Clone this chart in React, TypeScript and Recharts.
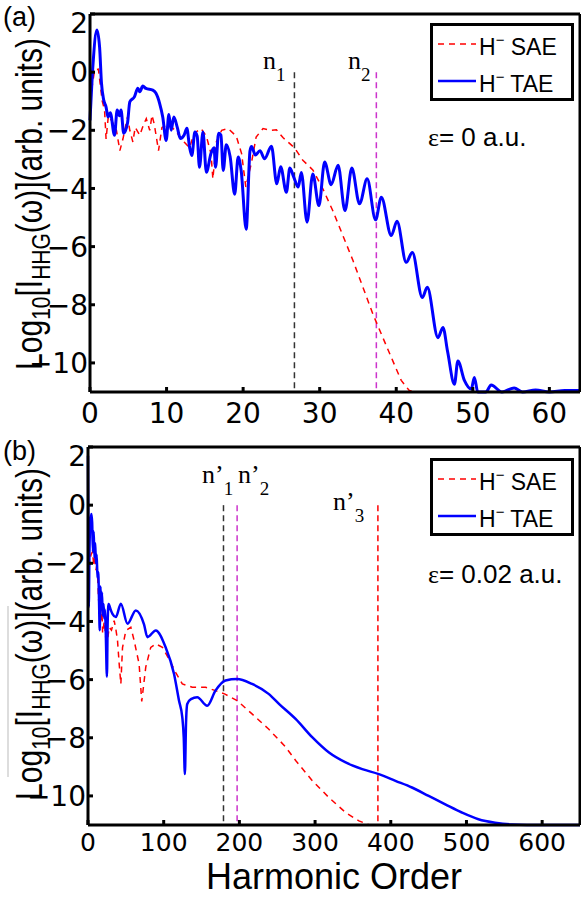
import React from "react";
import { LineChart, Line, XAxis, YAxis, ReferenceLine } from "recharts";

// (a) epsilon = 0
const harmA_tae = [0, 0.4, 0.9, 1.25, 1.5, 1.8, 2.1, 2.35, 2.65, 3.2, 3.55, 3.85, 4.05, 4.4, 4.9, 5.2, 5.8, 6.25, 6.5, 6.9, 7.3, 8.2, 8.6, 9.1, 9.5, 9.95, 10.3, 10.6, 10.95, 11.4, 11.8, 12.3, 12.65, 13, 13.3, 13.7, 14, 14.3, 14.75, 15.2, 15.8, 16.2, 16.4, 16.8, 17.1, 17.4, 17.8, 18.3, 18.9, 19.35, 19.75, 20.4, 20.9, 21.1, 21.6, 22.2, 22.8, 23.7, 24.4, 24.9, 25.65, 26.1, 26.6, 27.2, 27.6, 28.35, 29.1, 29.9, 30.65, 31.5, 32.4, 33.3, 34.2, 35.2, 36.2, 37.3, 38.05, 39.35, 40.1, 41.3, 42.1, 43.4, 44.05, 45.45, 46.1, 46.7, 47.6, 48.05, 48.9, 49.8, 50.2, 50.65, 51.7, 52.4, 53.8, 55.4, 56.5, 58.2, 60, 62, 64];
const logA_tae = [-1.66, 0.3, 1.45, 0.87, -0.38, -0.97, -1.2, -1.54, -1.4, -2.17, -1.3, -1.5, -1.3, -2.1, -1.75, -1.02, -0.85, -0.55, -0.67, -0.48, -0.56, -0.62, -0.72, -1.08, -1.54, -2.35, -1.46, -2.0, -1.54, -1.9, -2.28, -2.16, -1.93, -2.57, -2.87, -2.06, -2.2, -3.27, -2.06, -3.44, -2.8, -2.6, -3.27, -2.1, -2.16, -3.38, -2.5, -2.9, -4.2, -2.92, -3.4, -5.4, -2.7, -2.56, -2.85, -2.7, -2.98, -2.55, -3.84, -3.25, -4.13, -3.3, -3.6, -3.95, -3.45, -5.16, -3.5, -4.59, -3.09, -3.87, -3.2, -4.76, -3.3, -4.53, -3.67, -5.08, -4.3, -5.62, -5.13, -6.54, -6.2, -7.75, -7.4, -9.13, -8.78, -9.6, -10.73, -9.93, -10.6, -10.9, -10.5, -11, -11, -10.76, -11, -10.86, -11, -10.93, -11, -10.95, -10.95];

const harmA_sae = [0, 0.6, 1.1, 1.6, 1.9, 2.1, 2.4, 2.9, 3.45, 3.9, 4.3, 4.9, 5.2, 5.6, 5.9, 6.5, 7.0, 7.35, 7.8, 8.1, 8.4, 8.95, 9.4, 9.8, 10.3, 11.1, 12.3, 13, 13.6, 14.5, 15.2, 15.8, 16.05, 16.5, 17.2, 18.05, 19.1, 19.8, 20.35, 21.1, 21.7, 22.6, 23.5, 24.35, 25.2, 26.1, 26.7, 27.8, 29.1, 30.4, 31.7, 33, 34.35, 35.65, 36.95, 38.25, 39.55, 40.65, 41.7, 42.5, 64];
const logA_sae = [-0.97, 0.07, 0.1, -1, -1.3, -2.3, -1.5, -1.7, -2.0, -2.7, -2.3, -1.54, -2.0, -2.4, -1.9, -2.17, -1.8, -1.6, -2.0, -1.48, -1.8, -2.7, -1.9, -1.85, -1.8, -2.0, -2.4, -2.6, -2.1, -1.94, -2.2, -2.8, -3.67, -2.4, -2.0, -1.94, -2.2, -2.8, -3.95, -3.1, -2.23, -1.94, -2.0, -1.98, -2.25, -2.46, -2.6, -3.03, -3.36, -4.0, -4.76, -5.6, -6.48, -7.4, -8.32, -9.13, -9.93, -10.6, -10.95, -11, -11];

// (b) epsilon = 0.02
const harmB_tae = [0, 0.5, 1, 2, 3, 4.5, 5.5, 6.5, 7.5, 8.5, 9.5, 10.5, 11.5, 12.5, 13.5, 14.5, 15.5, 16.5, 17.5, 18.5, 19.5, 20.5, 21.5, 22.5, 23.5, 25, 26, 27.2, 30, 32.5, 36.8, 43.4, 52.2, 63.2, 74, 78.5, 89.5, 102.6, 113.6, 120.2, 124.6, 126.5, 128, 129.5, 131.1, 136, 144.3, 157.5, 168.4, 181.6, 197, 216.7, 238.6, 252.6, 274.6, 296.5, 318.4, 340.4, 362.3, 384.2, 406.2, 428, 450, 472, 493.8, 515.8, 537.8, 560, 600, 650];
const logB_tae = [1.7, -1, -3.5, -1.5, -0.6, -0.3, -0.6, -1.6, -0.9, -1.8, -1.3, -2.0, -1.7, -2.5, -2.3, -3.2, -4.3, -2.8, -3.5, -3.0, -3.8, -3.4, -3.9, -3.6, -4.4, -5.9, -4.0, -3.4, -3.6, -3.75, -3.85, -3.39, -4.08, -3.62, -4.1, -4.54, -4.31, -4.89, -5.8, -6.72, -7.3, -8.0, -9.25, -7.5, -6.84, -6.67, -6.61, -6.9, -6.38, -6.03, -5.98, -6.15, -6.49, -6.84, -7.36, -7.99, -8.51, -8.85, -9.08, -9.25, -9.48, -9.71, -10.0, -10.29, -10.57, -10.8, -10.92, -10.98, -11, -11];

const harmB_sae = [0, 1.7, 4, 6.1, 7.5, 9.2, 10.5, 12, 14, 15.5, 17.1, 18.3, 19.3, 21.5, 24.6, 28, 31, 34.6, 37, 39, 41.2, 43.4, 45.6, 50, 56.6, 61, 67.5, 71, 76.3, 82.9, 89.5, 98.3, 107, 115.8, 124.6, 137.7, 155.3, 168.4, 181, 197, 216.7, 238.6, 260.5, 274.6, 296.5, 318.4, 340.4, 357.9, 372, 650];
const logB_sae = [-2.1, -2.1, -1.7, -1.6, -2.1, -1.55, -2.24, -2.0, -3.28, -2.9, -3.97, -3.5, -4.4, -4.0, -4.9, -4.2, -4.3, -3.97, -4.3, -4.66, -5.46, -6.15, -4.9, -4.31, -4.2, -4.66, -5.46, -6.75, -5.57, -4.89, -4.77, -4.89, -5.29, -5.75, -6.15, -6.26, -6.26, -6.38, -6.5, -6.72, -7.18, -7.7, -8.3, -8.79, -9.48, -10.06, -10.57, -10.86, -11, -11];

const ticksA = [0, 10, 20, 30, 40, 50, 60];
const ticksB = [0, 100, 200, 300, 400, 500, 600];
const yTicks = [-10, -8, -6, -4, -2, 0, 2];

const cutoffsA = [26.7, 37.4];
const cutoffsB = [179, 197, 383];

const RED = "#ff0000";
const BLUE = "#0000ff";
const MAGENTA = "#cc33cc";
const GREY = "#333333";
const SANS = "'Liberation Sans', Arial, sans-serif";
const SERIF = "'Liberation Serif', 'Times New Roman', serif";
const TICKFONT = "'DejaVu Sans', sans-serif";

const toPoints = (hs: number[], vs: number[]) => hs.map((h, i) => ({ h, v: vs[i] }));

const fmt = (v: number) => (v < 0 ? "\u2212" + Math.abs(v) : String(v));

function YTick(props: any) {
  const { x, y, payload } = props;
  const shift = payload.value === 2 ? 9 : 0;
  return (
    <text x={x} y={y + shift} dy="0.36em" textAnchor="end" fontFamily={TICKFONT} fontSize={28} fill="#000">
      {fmt(payload.value)}
    </text>
  );
}

function XTick(props: any) {
  const { x, y, payload, fs } = props;
  return (
    <text x={x} y={y} dy="0.73em" textAnchor="middle" fontFamily={TICKFONT} fontSize={fs} fill="#000">
      {payload.value}
    </text>
  );
}

interface PanelProps {
  sae: { h: number; v: number }[];
  tae: { h: number; v: number }[];
  xMax: number;
  xTicks: number[];
  markers: { x: number; color: string }[];
  left: number;
  taeWidth: number;
  tickFs: number;
  tickGap: number;
}

function Panel({ sae, tae, xMax, xTicks, markers, left, taeWidth, tickFs, tickGap }: PanelProps) {
  const axisLine = { stroke: "#000", strokeWidth: 3 };
  const tickLine = { stroke: "#000", strokeWidth: 3 };
  // axes are 1px thick boxes so they render; margins compensate
  return (
    <LineChart width={581} height={445} margin={{ top: 13, right: 0, bottom: 52, left: left - 1 }}>
      <XAxis
        xAxisId="b"
        dataKey="h"
        type="number"
        domain={[0, xMax]}
        ticks={xTicks}
        height={1}
        axisLine={axisLine}
        tickLine={tickLine}
        tickSize={-5}
        tickMargin={tickGap}
        tick={<XTick fs={tickFs} />}
        allowDuplicatedCategory={false}
      />
      <XAxis
        xAxisId="t"
        orientation="top"
        dataKey="h"
        type="number"
        domain={[0, xMax]}
        ticks={xTicks}
        height={1}
        axisLine={axisLine}
        tickLine={tickLine}
        tickSize={-5}
        tick={false}
      />
      <YAxis
        yAxisId="l"
        type="number"
        domain={[-11, 2]}
        ticks={yTicks}
        width={1}
        axisLine={axisLine}
        tickLine={tickLine}
        tickSize={-5}
        tickMargin={7}
        tick={<YTick />}
      />
      <YAxis
        yAxisId="r"
        orientation="right"
        type="number"
        domain={[-11, 2]}
        ticks={yTicks}
        width={1}
        axisLine={axisLine}
        tickLine={tickLine}
        tickSize={-5}
        tick={false}
      />
      {markers.map((m) => (
        <ReferenceLine
          key={m.x}
          xAxisId="b"
          yAxisId="l"
          segment={[
            { x: m.x, y: 0 },
            { x: m.x, y: -11 },
          ]}
          stroke={m.color}
          strokeWidth={1.5}
          strokeDasharray="6 4"
        />
      ))}
      <Line
        xAxisId="b"
        yAxisId="l"
        data={sae}
        dataKey="v"
        type="linear"
        stroke={RED}
        strokeWidth={1.5}
        strokeDasharray="6 5"
        dot={false}
        isAnimationActive={false}
      />
      <Line
        xAxisId="b"
        yAxisId="l"
        data={tae}
        dataKey="v"
        type="monotone"
        stroke={BLUE}
        strokeWidth={taeWidth}
        dot={false}
        isAnimationActive={false}
      />
    </LineChart>
  );
}

function LegendBox({ top }: { top: number }) {
  return (
    <g>
      <rect x={431.5} y={top + 1.5} width={141} height={75} fill="#fff" stroke="#000" strokeWidth={3} />
      <line x1={438} x2={476} y1={top + 21} y2={top + 21} stroke={RED} strokeWidth={1.5} strokeDasharray="6 5" />
      <line x1={438} x2={476} y1={top + 58} y2={top + 58} stroke={BLUE} strokeWidth={2.5} />
      <text x={479} y={top + 32} fontFamily={SANS} fontSize={23}>
        H<tspan fontSize={15} dy={-10}>{"\u2212"}</tspan>
        <tspan dy={10}> SAE</tspan>
      </text>
      <text x={479} y={top + 69} fontFamily={SANS} fontSize={23}>
        H<tspan fontSize={15} dy={-10}>{"\u2212"}</tspan>
        <tspan dy={10}> TAE</tspan>
      </text>
    </g>
  );
}

function YLabel({ cx, cy }: { cx: number; cy: number }) {
  // glyph heights are a little stretched across, as in the reference
  return (
    <text
      transform={`translate(${cx},${cy}) rotate(-90) scale(1,1.2)`}
      textAnchor="middle"
      fontFamily={SANS}
      fontSize={30}
    >
      Log<tspan fontSize={21} dy={7}>10</tspan>
      <tspan dy={-7}>[I</tspan>
      <tspan fontSize={21} dy={7}>HHG</tspan>
      <tspan dy={-7}>({"\u03c9"})](arb. units)</tspan>
    </text>
  );
}

function NLabel({ x, y, prime, sub }: { x: number; y: number; prime?: boolean; sub: string }) {
  return (
    <text x={x} y={y} fontFamily={SERIF} fontSize={26}>
      n{prime ? "\u2019" : ""}
      <tspan fontSize={19} dy={12}>{sub}</tspan>
    </text>
  );
}

export default function App() {
  const saeA = toPoints(harmA_sae, logA_sae);
  const taeA = toPoints(harmA_tae, logA_tae);
  const saeB = toPoints(harmB_sae, logB_sae);
  const taeB = toPoints(harmB_tae, logB_tae);

  return (
    <div style={{ position: "absolute", left: 0, top: 0, width: 581, height: 897, background: "#fff", overflow: "hidden" }}>
      <div style={{ position: "absolute", left: 0, top: 0 }}>
        <Panel
          sae={saeA}
          tae={taeA}
          xMax={64}
          xTicks={ticksA}
          markers={[
            { x: cutoffsA[0], color: GREY },
            { x: cutoffsA[1], color: MAGENTA },
          ]}
          left={90}
          taeWidth={3}
          tickFs={28}
          tickGap={16}
        />
      </div>
      <div style={{ position: "absolute", left: 0, top: 433 }}>
        <Panel
          sae={saeB}
          tae={taeB}
          xMax={650}
          xTicks={ticksB}
          markers={[
            { x: cutoffsB[0], color: GREY },
            { x: cutoffsB[1], color: MAGENTA },
            { x: cutoffsB[2], color: RED },
          ]}
          left={88}
          taeWidth={2.5}
          tickFs={25}
          tickGap={13}
        />
      </div>
      <svg width={581} height={897} style={{ position: "absolute", left: 0, top: 0, pointerEvents: "none" }}>
        <text x={3} y={26} fontFamily={SANS} fontSize={27}>(a)</text>
        <text x={3} y={460} fontFamily={SANS} fontSize={27}>(b)</text>
        <YLabel cx={42} cy={204} />
        <YLabel cx={42} cy={634} />
        <line x1={8} x2={8} y1={606} y2={777} stroke="#bbb" strokeWidth={1} />
        <NLabel x={263} y={69} sub="1" />
        <NLabel x={348} y={69} sub="2" />
        <NLabel x={202} y={483} prime sub="1" />
        <NLabel x={238} y={483} prime sub="2" />
        <NLabel x={333} y={510} prime sub="3" />
        <LegendBox top={23} />
        <LegendBox top={458} />
        <text x={428} y={146} fontFamily={SANS} fontSize={26}>
          <tspan fontFamily={SERIF}>{"\u03b5"}</tspan>= 0 a.u.
        </text>
        <text x={428} y={583} fontFamily={SANS} fontSize={26}>
          <tspan fontFamily={SERIF}>{"\u03b5"}</tspan>= 0.02 a.u.
        </text>
        <text x={334} y={889} textAnchor="middle" fontFamily={SANS} fontSize={36}>
          Harmonic Order
        </text>
      </svg>
    </div>
  );
}
